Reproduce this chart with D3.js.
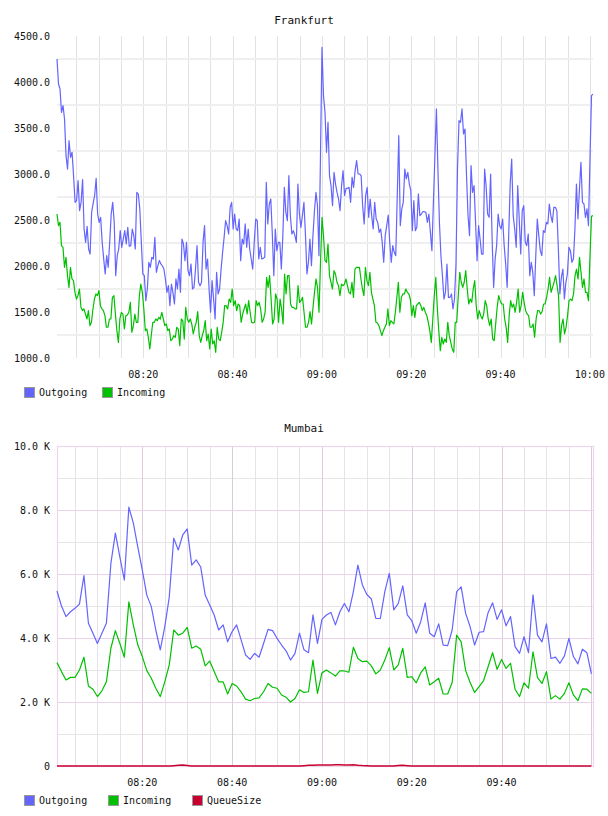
<!DOCTYPE html>
<html><head><meta charset="utf-8">
<script src="https://cdn.jsdelivr.net/npm/d3@7"></script>
<style>body{margin:0;background:#fff}svg{display:block}text{font-family:"DejaVu Sans Mono",monospace;fill:#111}</style>
</head><body><svg id="c" width="608" height="816"></svg>
<script>
// ---------- Frankfurt data (bytes/s), evenly spaced from fraStart to fraEnd ----------
const fraStart = "08:00:42", fraEnd = "10:00:42";
const fraOutgoing = [
4250,3978,3924,3670,3743,3598,3199,3054,3362,3181,3236,2982,2692,2710,2928,2601,2692,2939,2402,2257,
2431,2185,2130,2583,2680,2764,2953,2565,2474,2529,2257,2080,1913,2112,1986,2257,2565,2692,2474,1895,
2112,2185,2384,2203,2293,2384,2239,2420,2214,2221,2402,2330,2185,2800,2782,2620,2257,1913,1895,1623,
1750,2040,1986,2094,2076,2312,1931,2004,2060,2022,2000,1967,1859,1714,1786,1569,1804,1714,1587,1859,
1750,1967,1714,2293,2239,2058,2257,1950,
1895,2022,1750,1768,1967,2221,1823,1786,1823,2257,2439,1967,2076,1750,1497,1841,1641,1424,1931,1696,
1750,1967,2149,2312,2493,2439,2348,2638,2692,2402,2565,2402,2384,2511,2058,2293,2239,2457,2203,2402,
2185,2076,1967,2257,2511,2493,2076,2203,2076,2083,2094,2910,2457,2674,2728,2348,1895,2402,2167,2257,
2257,1967,2330,2855,2583,2493,2982,2547,2348,2384,2330,2257,2891,2565,2420,2547,2692,2348,1913,2040,
2293,2004,2330,2601,2800,2656,2112,3199,
4377,3851,3670,3236,3562,2982,2873,2656,3018,2891,2800,2728,2601,2873,3036,2764,2844,2844,2855,2692,
2964,2855,3036,3145,3000,3000,2982,2656,2457,2764,2855,2529,2728,2547,2402,2692,2511,2474,2366,2402,
2257,2040,2330,2439,2554,2257,2040,2221,2149,2112,2764,3417,2439,2620,2692,3054,2946,3018,2891,2819,
2384,2710,2384,2420,2783,2547,2565,2590,2590,2583,2474,2565,2366,2167,2692,3199,3707,3054,2474,2112,
1895,1641,1714,2022,1659,1659,1696,1533,1641,2022,3054,
3580,3562,3707,3435,3489,2982,2547,2330,3091,2800,2873,2474,2058,2439,2293,2130,2130,3054,2873,2565,
2529,3000,2293,1768,2076,2221,2565,2439,2402,2511,2221,2022,1768,2330,2891,3163,2547,2402,2203,2873,
2511,2130,2601,2656,2257,2221,2348,1895,2040,1931,1678,2112,2511,2330,2167,2112,2384,2366,2474,2457,
2674,2547,2474,2638,2638,2601,2185,1696,1877,1967,1641,1823,1913,2203,2167,2040,2076,2402,2891,2511,
2837,3127,2692,2674,2529,2620,2439,3163,3851,3869
];
const fraIncoming = [
2565,2439,2475,2221,2203,1986,2094,1895,1768,1986,1859,1841,1714,1641,1678,1750,1551,1515,1533,1478,
1424,1515,1352,1388,1530,1641,1696,1678,1732,1569,1533,1515,1460,1334,1334,1424,1424,1659,1678,1478,
1297,1170,1424,1497,1478,1315,1460,1468,1497,1605,1279,1352,1478,1388,1388,1678,1804,1714,1533,1297,
1315,1225,1098,1250,1388,1388,1424,1406,1442,1424,1497,1424,1352,1370,1297,1315,1188,1206,1243,1225,
1334,1315,1134,1424,1406,1206,1551,1424,
1388,1424,1370,1261,1334,1388,1504,1243,1170,1243,1297,1406,1188,1261,1098,1315,1152,1188,1062,1334,
1206,1188,1279,1388,1569,1569,1533,1641,1605,1750,1569,1623,1515,1587,1569,1388,1478,1533,1587,1478,
1623,1497,1388,1381,1388,1623,1569,1605,1533,1388,1424,1497,1877,1768,1895,1641,1370,1424,1696,1641,
1388,1641,1533,1370,1913,1696,1895,1895,1587,1551,1551,1533,1533,1786,1605,1623,1659,1497,1334,1334,
1388,1504,1370,1551,1714,1859,1768,1497,2040,2529,
2330,2058,2040,2239,1895,1823,1750,1949,1913,1823,1786,1678,1804,1786,1804,1859,1786,1714,1696,1823,
1659,1967,1986,1986,1986,1859,1750,1678,1986,1841,1786,1931,1714,1641,1569,1388,1381,1352,1297,1243,
1297,1334,1370,1533,1352,1406,1388,1370,1497,1659,1823,1497,1659,1696,1696,1750,1714,1696,1641,1460,
1569,1442,1569,1587,1605,1569,1515,1551,1497,1460,1388,1297,1170,1424,1678,1877,1551,1297,1080,1225,
1152,1206,1170,1388,1243,1170,1098,1062,1388,1388,
1678,1931,1823,1768,1823,1949,1750,1587,1641,1605,1750,1841,1569,1424,1515,1460,1424,1478,1623,1569,
1424,1352,1424,1206,1188,1370,1551,1678,1623,1587,1587,1424,1334,1170,1460,1623,1551,1587,1497,1605,
1750,1497,1569,1714,1605,1515,1478,1460,1334,1334,1370,1225,1424,1515,1515,1478,1504,1587,1587,1659,
1750,1877,1714,1768,1823,1895,1786,1678,1170,1352,1424,1261,1334,1460,1623,1641,1623,1696,1895,1967,
1859,2094,1931,1768,1859,1714,1714,1623,2112,2540,2547
];
const fraYTicks = [1000,1500,2000,2500,3000,3500,4000,4500];
const fraYGrid = [1250,1750,2250,2750,3250,3750,4250];
const fraXTicks = ["08:20","08:40","09:00","09:20","09:40","10:00"];
const fraSeries = ["Outgoing","Incoming"];

// ---------- Mumbai data (1-minute samples from mumStart) ----------
const mumStart = "08:01:00", mumEnd = "10:00:35";
const mumOutgoing = [
5470,5000,4670,4820,4930,5060,5950,4460,4150,3830,4150,4460,6330,7280,6530,5810,8090,7590,6840,6120,
5340,4980,4250,3630,4350,5280,7120,6750,7220,7410,6280,6440,6220,5340,5030,4720,4250,4410,3880,4200,
4410,3940,3470,3330,3520,3400,3830,4270,4230,3990,3780,3600,3310,3520,4150,
3630,3540,4720,3830,4580,4720,4800,4410,4820,5080,4820,5450,6280,5660,5360,5220,4610,4610,5450,6020,
4880,5080,5630,4720,4540,4150,4510,5100,4150,4040,4440,3780,3760,4250,5450,5600,4770,4350,3780,4180,
4200,4790,5100,4580,4880,4380,4670,3730,3520,4040,3540,5350,4090,3880,4440,3360,3400,3210,3440,3990,
3420,3190,3650,3540,2880
];
const mumIncoming = [
3230,2950,2690,2770,2770,3000,3400,2500,2400,2170,2350,2630,3680,4230,3830,3400,5130,4410,3780,3420,
2980,2740,2430,2170,2630,3160,4250,4090,4150,4330,3680,3750,3650,3130,3280,2950,2630,2630,2250,2580,
2500,2320,2090,2040,2110,2130,2320,2580,2460,2430,2220,2150,2000,2110,2380,
2300,2320,3310,2270,2910,3000,2910,2810,2970,2970,2930,3710,3360,3260,3280,3130,2880,3000,3310,3700,
3000,3160,3680,2770,2790,2600,2910,3100,2530,2630,2740,2250,2250,2610,4090,3880,2980,2610,2300,2480,
2670,3100,3540,3020,3330,3050,3210,2400,2170,2600,2430,3570,2760,2580,2950,2090,2200,2090,2270,2600,
2220,2040,2410,2400,2270
];
const mumQueue = [
0,0,0,0,0,0,0,0,0,0,0,0,0,0,0,0,0,0,0,0,0,0,0,0,0,0,10,20,30,15,
0,0,0,0,0,0,0,0,0,0,0,0,0,0,0,0,0,0,0,0,0,0,0,0,0,10,20,25,30,30,
35,35,40,40,35,35,40,25,15,10,0,0,0,0,0,0,15,20,10,0,
0,0,0,0,0,0,0,0,0,0,0,0,0,0,0,0,0,0,0,0,0,0,0,0,0,0,0,0,0,0,
0,0,0,0,0,0,0,0,0,0
];
const mumYTicks = [0,2000,4000,6000,8000,10000];
const mumYMinor = [1000,3000,5000,7000,9000];
const mumXTicks = ["08:20","08:40","09:00","09:20","09:40"];
const mumSeries = ["Outgoing","Incoming","QueueSize"];

const colors = {Outgoing:"#6464ff", Incoming:"#00c000", QueueSize:"#c80032"};

// ---------- drawing ----------
const svg = d3.select("#c");
const parse = d3.timeParse("%H:%M:%S");
const tp = s => parse(s.length === 5 ? s + ":00" : s);
function spread(vals, start, end) {
  const s = +tp(start), e = +tp(end);
  return vals.map((v, i) => ({t: new Date(s + (e - s) * i / (vals.length - 1)), v}));
}
function minutes(vals, start) {
  return vals.map((v, i) => ({t: d3.timeMinute.offset(tp(start), i), v}));
}

// ===== Frankfurt =====
{
  const g = svg.append("g");
  const x = d3.scaleTime().domain([tp(fraStart), tp(fraEnd)]).range([57, 593]);
  const y = d3.scaleLinear().domain([1000, 4500]).range([358, 36]);
  const vt = d3.timeMinute.every(5).range(d3.timeMinute.ceil(tp(fraStart)), tp(fraEnd));
  g.selectAll(".vg").data(vt).join("line")
    .attr("x1", d => Math.round(x(d)) + 0.5).attr("x2", d => Math.round(x(d)) + 0.5)
    .attr("y1", y(4500)).attr("y2", y(1000)).attr("stroke", "#e2e2e2");
  g.selectAll(".hg").data(fraYGrid).join("line")
    .attr("x1", 57).attr("x2", 593).attr("y1", d => Math.round(y(d))).attr("y2", d => Math.round(y(d)))
    .attr("stroke", "#efefef").attr("stroke-width", 2);
  g.append("text").attr("x", 304).attr("y", 24).attr("text-anchor", "middle").style("font-size", "11px").text("Frankfurt");
  g.selectAll(".yl").data(fraYTicks).join("text")
    .attr("x", 50).attr("y", d => y(d)).attr("dy", "0.35em").attr("text-anchor", "end")
    .style("font-size", "10px").text(d3.format(".1f"));
  g.selectAll(".xl").data(fraXTicks).join("text")
    .attr("x", d => x(tp(d))).attr("y", 378).attr("text-anchor", "middle")
    .style("font-size", "10px").text(d => d);
  const line = d3.line().x(d => x(d.t)).y(d => y(d.v));
  [["Outgoing", fraOutgoing], ["Incoming", fraIncoming]].forEach(([k, vals]) => {
    g.append("path").datum(spread(vals, fraStart, fraEnd)).attr("d", line)
      .attr("fill", "none").attr("stroke", colors[k]).attr("stroke-width", 1.2).attr("stroke-linejoin", "round");
  });
  const lg = g.selectAll(".lg").data(fraSeries).join("g").attr("transform", (d, i) => `translate(${24 + i * 78},387)`);
  lg.append("rect").attr("x", 0.5).attr("y", 0.5).attr("width", 10).attr("height", 10)
    .attr("fill", d => colors[d]).attr("stroke", "#999");
  lg.append("text").attr("x", 15).attr("y", 9).style("font-size", "10px").text(d => d);
}

// ===== Mumbai =====
{
  const g = svg.append("g");
  const x = d3.scaleTime().domain([tp(mumStart), tp(mumEnd)]).range([57, 594]);
  const y = d3.scaleLinear().domain([0, 10000]).range([766, 446]);
  const vt = d3.timeMinute.every(5).range(d3.timeMinute.ceil(tp(mumStart)), tp(mumEnd));
  const isMajor = d => d.getMinutes() % 20 === 0;
  g.selectAll(".hm").data(mumYMinor).join("line")
    .attr("x1", 57).attr("x2", 594).attr("y1", d => Math.round(y(d)) + 0.5).attr("y2", d => Math.round(y(d)) + 0.5)
    .attr("stroke", "#e6e6e6");
  g.selectAll(".vg").data(vt).join("line")
    .attr("x1", d => Math.round(x(d)) + 0.5).attr("x2", d => Math.round(x(d)) + 0.5)
    .attr("y1", y(10000)).attr("y2", y(0))
    .attr("stroke", d => isMajor(d) ? "#dccbdc" : "#e8e2e8");
  g.selectAll(".hM").data(mumYTicks.filter(d => d > 0 && d < 10000)).join("line")
    .attr("x1", 57).attr("x2", 594).attr("y1", d => Math.round(y(d)) + 0.5).attr("y2", d => Math.round(y(d)) + 0.5)
    .attr("stroke", "#ebd2eb");
  // frame
  g.append("rect").attr("x", 57.5).attr("y", Math.round(y(10000)) + 0.5)
    .attr("width", 536).attr("height", Math.round(y(0)) - Math.round(y(10000)))
    .attr("fill", "none").attr("stroke", "#ecd6ec").attr("stroke-width", 1.2);
  g.append("text").attr("x", 304).attr("y", 432).attr("text-anchor", "middle").style("font-size", "11px").text("Mumbai");
  g.selectAll(".yl").data(mumYTicks).join("text")
    .attr("x", 50).attr("y", d => y(d)).attr("dy", "0.35em").attr("text-anchor", "end")
    .style("font-size", "10px").text(d => d === 0 ? "0" : d3.format(".1f")(d / 1000) + " K");
  g.selectAll(".xl").data(mumXTicks).join("text")
    .attr("x", d => x(tp(d))).attr("y", 786).attr("text-anchor", "middle")
    .style("font-size", "10px").text(d => d);
  const line = d3.line().x(d => x(d.t)).y(d => y(d.v));
  [["Outgoing", mumOutgoing], ["Incoming", mumIncoming], ["QueueSize", mumQueue]].forEach(([k, vals]) => {
    g.append("path").datum(minutes(vals, mumStart)).attr("d", line)
      .attr("fill", "none").attr("stroke", colors[k]).attr("stroke-width", k === "QueueSize" ? 1.5 : 1.2)
      .attr("stroke-linejoin", "round");
  });
  const lg = g.selectAll(".lg").data(mumSeries).join("g").attr("transform", (d, i) => `translate(${24 + i * 84},795)`);
  lg.append("rect").attr("x", 0.5).attr("y", 0.5).attr("width", 10).attr("height", 10)
    .attr("fill", d => colors[d]).attr("stroke", "#999");
  lg.append("text").attr("x", 15).attr("y", 9).style("font-size", "10px").text(d => d);
}
</script></body></html>
